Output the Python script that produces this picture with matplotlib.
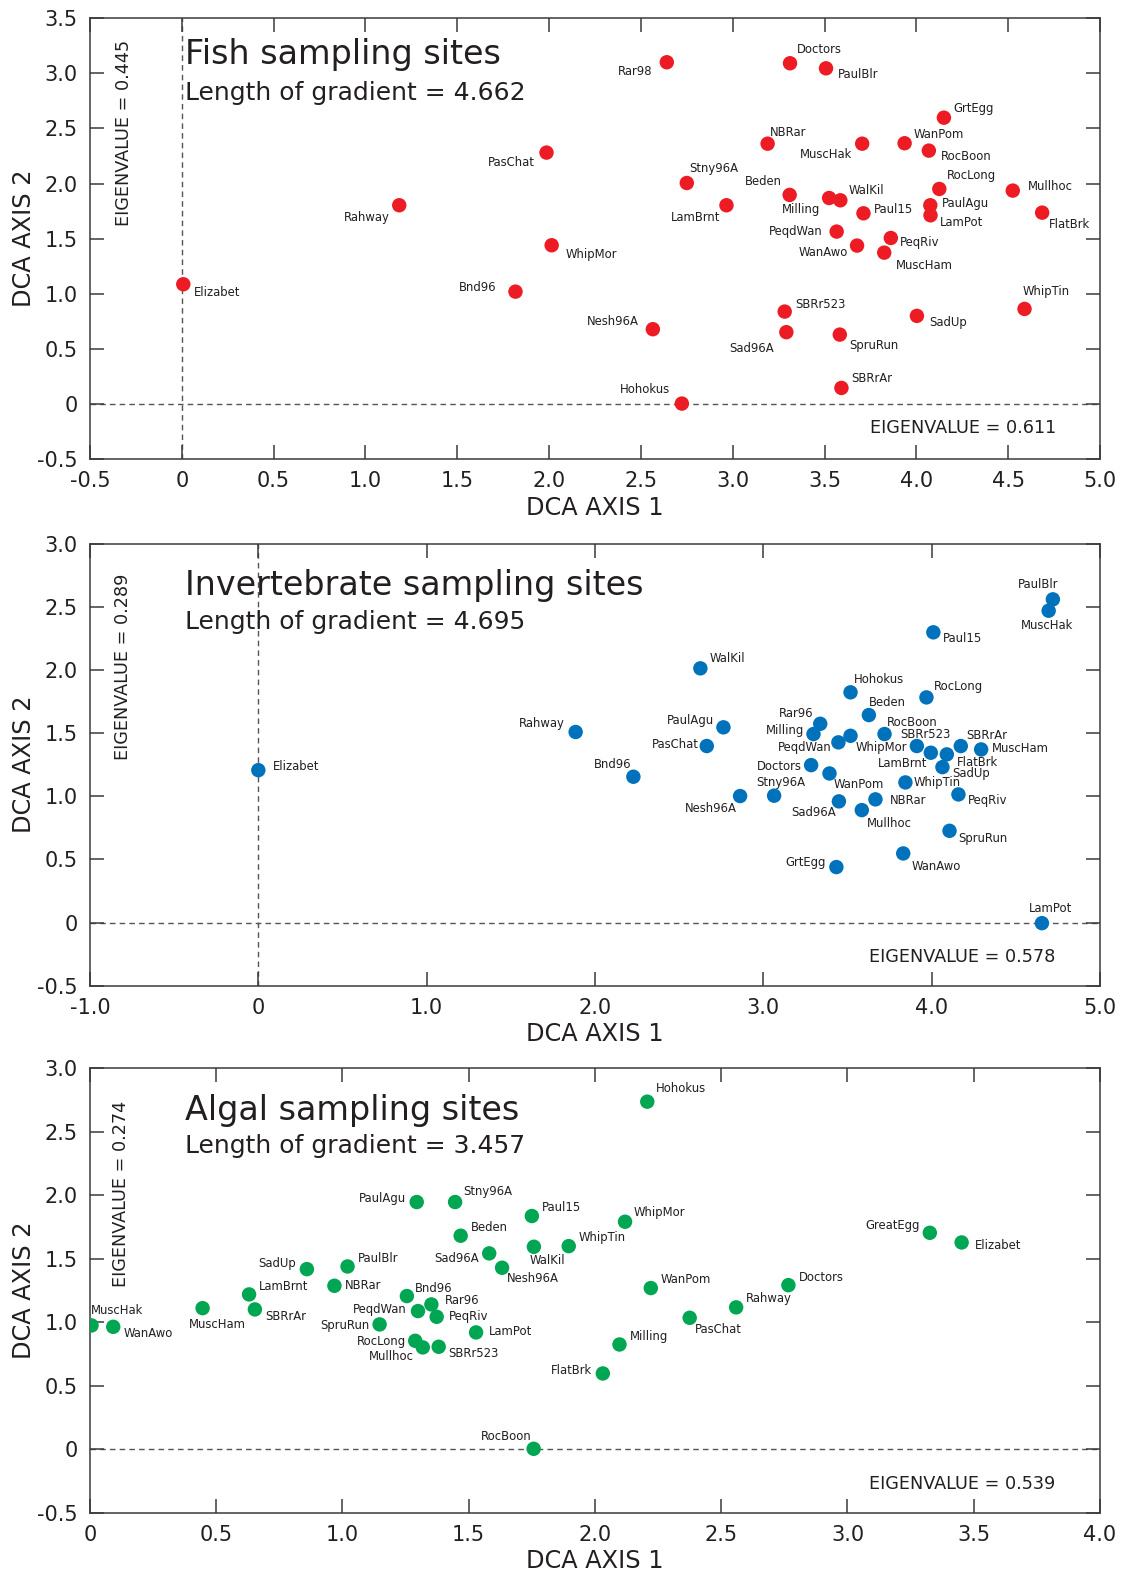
import matplotlib
matplotlib.use('Agg')
import matplotlib.pyplot as plt

plt.rcParams['font.family'] = ['DejaVu Sans']

# ---------------- data ----------------
fish_sites = ['Rar98', 'Doctors', 'PaulBlr', 'GrtEgg', 'NBRar', 'MuscHak', 'WanPom', 'RocBoon',
              'Stny96A', 'Beden', 'Milling', 'WalKil', 'RocLong', 'Mullhoc', 'LamBrnt', 'Paul15',
              'PaulAgu', 'LamPot', 'FlatBrk', 'PeqdWan', 'PeqRiv', 'WanAwo', 'MuscHam', 'PasChat',
              'Rahway', 'WhipMor', 'Elizabet', 'Bnd96', 'WhipTin', 'SBRr523', 'SadUp', 'Nesh96A',
              'Sad96A', 'SpruRun', 'SBRrAr', 'Hohokus']
fish_x = [2.641, 3.312, 3.508, 4.150, 3.190, 3.705, 3.936, 4.068,
          2.750, 3.310, 3.525, 3.586, 4.125, 4.525, 2.966, 3.712,
          4.076, 4.077, 4.685, 3.566, 3.861, 3.677, 3.825, 1.986,
          1.184, 2.014, 0.008, 1.817, 4.589, 3.283, 4.003, 2.565,
          3.292, 3.583, 3.592, 2.723]
fish_y = [3.101, 3.092, 3.046, 2.598, 2.362, 2.362, 2.366, 2.299,
          2.005, 1.897, 1.869, 1.848, 1.951, 1.936, 1.803, 1.730,
          1.803, 1.712, 1.736, 1.564, 1.506, 1.437, 1.373, 2.281,
          1.803, 1.440, 1.086, 1.019, 0.862, 0.838, 0.799, 0.678,
          0.651, 0.629, 0.145, 0.003]

inv_sites = ['PaulBlr', 'MuscHak', 'Paul15', 'WalKil', 'Hohokus', 'RocLong', 'Beden', 'PaulAgu',
             'Rar96', 'Milling', 'PeqdWan', 'WhipMor', 'RocBoon', 'PasChat', 'SBRr523', 'LamBrnt',
             'FlatBrk', 'SBRrAr', 'MuscHam', 'SadUp', 'Doctors', 'WanPom', 'Bnd96', 'WhipTin',
             'Nesh96A', 'Stny96A', 'Sad96A', 'NBRar', 'Mullhoc', 'PeqRiv', 'SpruRun', 'WanAwo',
             'GrtEgg', 'Rahway', 'Elizabet', 'LamPot']
inv_x = [4.720, 4.695, 4.010, 2.626, 3.518, 3.969, 3.627, 2.763,
         3.338, 3.298, 3.446, 3.518, 3.720, 2.664, 3.912, 3.995,
         4.090, 4.173, 4.294, 4.064, 3.284, 3.393, 2.228, 3.844,
         2.862, 3.064, 3.449, 3.666, 3.585, 4.159, 4.106, 3.831,
         3.434, 1.885, 0.000, 4.655]
inv_y = [2.558, 2.468, 2.297, 2.012, 1.822, 1.782, 1.642, 1.545,
         1.573, 1.492, 1.426, 1.478, 1.492, 1.397, 1.397, 1.344,
         1.331, 1.397, 1.370, 1.230, 1.246, 1.180, 1.154, 1.109,
         1.001, 1.004, 0.959, 0.975, 0.890, 1.014, 0.726, 0.547,
         0.439, 1.508, 1.206, -0.005]

alg_sites = ['PaulAgu', 'Stny96A', 'Paul15', 'WhipMor', 'Beden', 'WalKil', 'WhipTin', 'Sad96A',
             'Nesh96A', 'SadUp', 'PaulBlr', 'LamBrnt', 'NBRar', 'Bnd96', 'Rar96', 'PeqdWan',
             'PeqRiv', 'MuscHam', 'SBRrAr', 'MuscHak', 'WanAwo', 'SpruRun', 'LamPot', 'RocLong',
             'Mullhoc', 'SBRr523', 'Milling', 'FlatBrk', 'Hohokus', 'GreatEgg', 'Elizabet', 'WanPom',
             'Doctors', 'Rahway', 'PasChat', 'RocBoon']
alg_x = [1.294, 1.446, 1.750, 2.119, 1.468, 1.758, 1.896, 1.581,
         1.632, 0.859, 1.020, 0.630, 0.968, 1.255, 1.352, 1.299,
         1.373, 0.446, 0.653, 0.006, 0.092, 1.147, 1.529, 1.288,
         1.318, 1.381, 2.097, 2.031, 2.207, 3.326, 3.452, 2.221,
         2.766, 2.559, 2.375, 1.757]
alg_y = [1.945, 1.945, 1.835, 1.790, 1.680, 1.593, 1.598, 1.541,
         1.428, 1.417, 1.438, 1.218, 1.286, 1.205, 1.139, 1.087,
         1.042, 1.110, 1.100, 0.974, 0.963, 0.982, 0.919, 0.853,
         0.801, 0.806, 0.824, 0.596, 2.735, 1.703, 1.627, 1.268,
         1.291, 1.116, 1.034, 0.003]

titles = ['Fish sampling sites', 'Invertebrate sampling sites', 'Algal sampling sites']
gradients = ['Length of gradient = 4.662', 'Length of gradient = 4.695', 'Length of gradient = 3.457']
eig_axis1 = ['EIGENVALUE = 0.611', 'EIGENVALUE = 0.578', 'EIGENVALUE = 0.539']
eig_axis2 = ['EIGENVALUE = 0.445', 'EIGENVALUE = 0.289', 'EIGENVALUE = 0.274']

fish_xticks = [-0.5, 0, 0.5, 1.0, 1.5, 2.0, 2.5, 3.0, 3.5, 4.0, 4.5, 5.0]
fish_xticklabels = ['-0.5', '0', '0.5', '1.0', '1.5', '2.0', '2.5', '3.0', '3.5', '4.0', '4.5', '5.0']
fish_yticks = [-0.5, 0, 0.5, 1.0, 1.5, 2.0, 2.5, 3.0, 3.5]
fish_yticklabels = ['-0.5', '0', '0.5', '1.0', '1.5', '2.0', '2.5', '3.0', '3.5']
inv_xticks = [-1.0, 0, 1.0, 2.0, 3.0, 4.0, 5.0]
inv_xticklabels = ['-1.0', '0', '1.0', '2.0', '3.0', '4.0', '5.0']
inv_yticks = [-0.5, 0, 0.5, 1.0, 1.5, 2.0, 2.5, 3.0]
inv_yticklabels = ['-0.5', '0', '0.5', '1.0', '1.5', '2.0', '2.5', '3.0']
alg_xticks = [0, 0.5, 1.0, 1.5, 2.0, 2.5, 3.0, 3.5, 4.0]
alg_xticklabels = ['0', '0.5', '1.0', '1.5', '2.0', '2.5', '3.0', '3.5', '4.0']
alg_yticks = inv_yticks
alg_yticklabels = inv_yticklabels

# ---------------- label placement (style) ----------------
# (anchor, dx px, dy px downward)
fish_lab = {
    'Rar98': ('r', -14, 9), 'Doctors': ('l', 7, -14), 'PaulBlr': ('l', 12, 6), 'GrtEgg': ('l', 9, -9),
    'NBRar': ('l', 2, -11), 'MuscHak': ('r', -10, 11), 'WanPom': ('l', 9, -9), 'RocBoon': ('l', 12, 6),
    'Stny96A': ('l', 2, -15), 'Beden': ('r', -8, -13), 'Milling': ('r', -9, 12), 'WalKil': ('l', 8, -10),
    'RocLong': ('l', 8, -13), 'Mullhoc': ('l', 15, -4), 'LamBrnt': ('r', -6, 12), 'Paul15': ('l', 10, -4),
    'PaulAgu': ('l', 12, -2), 'LamPot': ('l', 9, 7), 'FlatBrk': ('l', 7, 12), 'PeqdWan': ('r', -14, 0),
    'PeqRiv': ('l', 9, 5), 'WanAwo': ('r', -9, 7), 'MuscHam': ('l', 12, 13), 'PasChat': ('r', -12, 10),
    'Rahway': ('r', -9, 12), 'WhipMor': ('l', 14, 9), 'Elizabet': ('l', 11, 8), 'Bnd96': ('r', -19, -4),
    'WhipTin': ('l', -2, -17), 'SBRr523': ('l', 11, -7), 'SadUp': ('l', 12, 7), 'Nesh96A': ('r', -14, -8),
    'Sad96A': ('r', -12, 16), 'SpruRun': ('l', 9, 11), 'SBRrAr': ('l', 10, -9), 'Hohokus': ('r', -12, -14),
}
inv_lab = {
    'PaulBlr': ('r', 6, -15), 'MuscHak': ('c', -2, 15), 'Paul15': ('l', 10, 6), 'WalKil': ('l', 9, -10),
    'Hohokus': ('l', 3, -13), 'RocLong': ('l', 7, -11), 'Beden': ('l', 0, -13), 'PaulAgu': ('r', -9, -7),
    'Rar96': ('r', -7, -10), 'Milling': ('r', -9, -4), 'PeqdWan': ('r', -7, 5), 'WhipMor': ('l', 5, 12),
    'RocBoon': ('l', 2, -12), 'PasChat': ('r', -8, -2), 'SBRr523': ('c', 9, -12), 'LamBrnt': ('r', -4, 11),
    'FlatBrk': ('l', 10, 8), 'SBRrAr': ('l', 5, -11), 'MuscHam': ('l', 11, -1), 'SadUp': ('l', 10, 6),
    'Doctors': ('r', -9, 1), 'WanPom': ('l', 4, 11), 'Bnd96': ('r', -2, -12), 'WhipTin': ('l', 8, 0),
    'Nesh96A': ('r', -3, 12), 'Stny96A': ('c', 7, -13), 'Sad96A': ('r', -3, 11), 'NBRar': ('l', 14, 1),
    'Mullhoc': ('l', 5, 13), 'PeqRiv': ('l', 9, 6), 'SpruRun': ('l', 9, 8), 'WanAwo': ('l', 8, 13),
    'GrtEgg': ('r', -11, -5), 'Rahway': ('r', -11, -9), 'Elizabet': ('l', 15, -4), 'LamPot': ('c', 9, -15),
}
alg_lab = {
    'PaulAgu': ('r', -11, -4), 'Stny96A': ('l', 8, -11), 'Paul15': ('l', 10, -9), 'WhipMor': ('l', 9, -9),
    'Beden': ('l', 10, -8), 'WalKil': ('c', 14, 14), 'WhipTin': ('l', 10, -9), 'Sad96A': ('r', -10, 5),
    'Nesh96A': ('l', 5, 11), 'SadUp': ('r', -11, -6), 'PaulBlr': ('l', 10, -8), 'LamBrnt': ('l', 10, -8),
    'NBRar': ('l', 10, 0), 'Bnd96': ('l', 8, -8), 'Rar96': ('l', 13, -4), 'PeqdWan': ('r', -11, -2),
    'PeqRiv': ('l', 12, 0), 'MuscHam': ('c', 15, 16), 'SBRrAr': ('l', 10, 7), 'MuscHak': ('l', -1, -15),
    'WanAwo': ('l', 10, 7), 'SpruRun': ('r', -10, 1), 'LamPot': ('l', 13, -1), 'RocLong': ('r', -9, 1),
    'Mullhoc': ('r', -9, 9), 'SBRr523': ('l', 10, 7), 'Milling': ('l', 10, -8), 'FlatBrk': ('r', -11, -3),
    'Hohokus': ('l', 9, -13), 'GreatEgg': ('r', -10, -7), 'Elizabet': ('l', 13, 3), 'WanPom': ('l', 10, -9),
    'Doctors': ('l', 10, -8), 'Rahway': ('l', 10, -9), 'PasChat': ('l', 5, 12), 'RocBoon': ('r', -2, -12),
}

panels = [
    dict(rect=[0.08021, 0.70802, 0.90018, 0.28034], sites=fish_sites, x=fish_x, y=fish_y, lab=fish_lab,
         color='#ED1C24', xlim=(-0.5, 5.0), ylim=(-0.5, 3.5), xt=fish_xticks, xtl=fish_xticklabels,
         yt=fish_yticks, ytl=fish_yticklabels, vline=True,
         tpos=(0.094, 0.896), spos=(0.094, 0.815), e1pos=(0.957, 0.070), e2pos=(0.0335, 0.951)),
    dict(rect=[0.08021, 0.37296, 0.90018, 0.28130], sites=inv_sites, x=inv_x, y=inv_y, lab=inv_lab,
         color='#0072BC', xlim=(-1.0, 5.0), ylim=(-0.5, 3.0), xt=inv_xticks, xtl=inv_xticklabels,
         yt=inv_yticks, ytl=inv_yticklabels, vline=True,
         tpos=(0.094, 0.884), spos=(0.094, 0.807), e1pos=(0.956, 0.065), e2pos=(0.0325, 0.933)),
    dict(rect=[0.08021, 0.03772, 0.90018, 0.28289], sites=alg_sites, x=alg_x, y=alg_y, lab=alg_lab,
         color='#00A651', xlim=(0.0, 4.0), ylim=(-0.5, 3.0), xt=alg_xticks, xtl=alg_xticklabels,
         yt=alg_yticks, ytl=alg_yticklabels, vline=False,
         tpos=(0.094, 0.883), spos=(0.094, 0.809), e1pos=(0.956, 0.065), e2pos=(0.0305, 0.926)),
]

fig = plt.figure(figsize=(11.22, 15.72), dpi=100)
ink = '#231F20'
spine_c = '#3a3a3a'
dash_c = '#555555'
HA = {'l': 'left', 'r': 'right', 'c': 'center'}

for i, p in enumerate(panels):
    ax = fig.add_axes(p['rect'])
    ax.set_xlim(*p['xlim'])
    ax.set_ylim(*p['ylim'])
    ax.axhline(0, color=dash_c, lw=1.0, ls=(0, (4, 3)), zorder=1)
    if p['vline']:
        ax.axvline(0, color=dash_c, lw=1.0, ls=(0, (4, 3)), zorder=1)
    ax.scatter(p['x'], p['y'], s=108, c=p['color'], edgecolors='none', zorder=3)
    for name, xi, yi in zip(p['sites'], p['x'], p['y']):
        ha, dx, dy = p['lab'][name]
        ax.annotate(name, (xi, yi), xytext=(dx, -dy), textcoords='offset pixels',
                    ha=HA[ha], va='center', fontsize=8.4, color=ink, zorder=4)
    ax.set_xticks(p['xt'])
    ax.set_xticklabels(p['xtl'])
    ax.set_yticks(p['yt'])
    ax.set_yticklabels(p['ytl'])
    ax.tick_params(direction='in', length=10, width=1.1, colors=spine_c, labelcolor=ink,
                   labelsize=15, top=True, right=True)
    ax.tick_params(axis='x', pad=9)
    ax.tick_params(axis='y', pad=9)
    for s in ax.spines.values():
        s.set_color(spine_c)
        s.set_linewidth(1.1)
    ax.set_xlabel('DCA AXIS 1', fontsize=17.3, color=ink, labelpad=3)
    ax.set_ylabel('DCA AXIS 2', fontsize=17.3, color=ink, labelpad=0.5)
    ax.text(*p['tpos'], titles[i], transform=ax.transAxes, fontsize=24, color=ink,
            ha='left', va='baseline', zorder=5)
    ax.text(*p['spos'], gradients[i], transform=ax.transAxes, fontsize=18, color=ink,
            ha='left', va='baseline', zorder=5)
    ax.text(*p['e1pos'], eig_axis1[i], transform=ax.transAxes, fontsize=12.7, color=ink,
            ha='right', va='center', zorder=5)
    ax.text(*p['e2pos'], eig_axis2[i], transform=ax.transAxes, fontsize=12.7, color=ink,
            ha='center', va='top', rotation=90, zorder=5)

fig.savefig('out.png', dpi=100)
